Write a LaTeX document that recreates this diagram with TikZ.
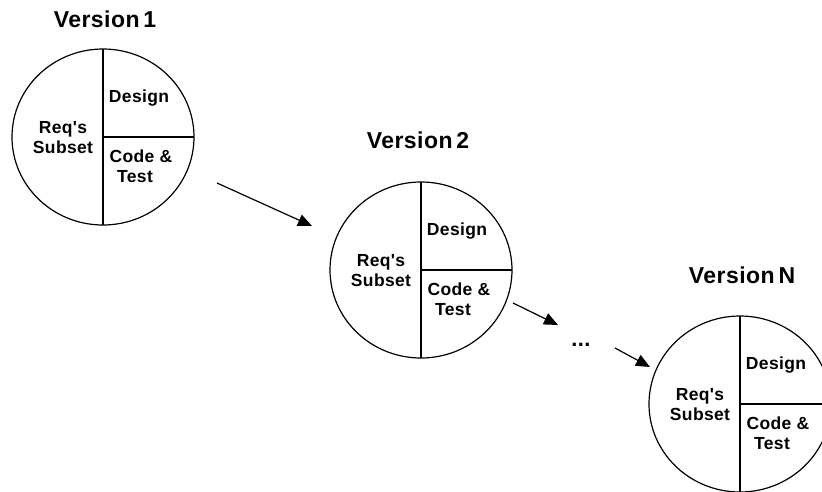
\documentclass[tikz,border=0pt]{standalone}
\usepackage{fontspec}
\setmainfont{Liberation Sans}[Ligatures=TeXOff]
\newfontfamily\labelfont{Liberation Sans}[Ligatures=TeXOff,LetterSpace=2]
\newfontfamily\titlefont{Liberation Sans}[Ligatures=TeXOff,LetterSpace=2]
\usetikzlibrary{arrows.meta}
\begin{document}
\begin{tikzpicture}[x=1pt,y=-1pt,
  rim/.style={draw=black,line width=1.2pt},
  lbl/.style={font=\labelfont\fontsize{17.5}{20}\selectfont\bfseries,anchor=base,inner sep=0pt},
  ttl/.style={font=\titlefont\fontsize{23}{27}\selectfont\bfseries,anchor=base,inner sep=0pt},
  flow/.style={draw=black,line width=1.2pt,-{Triangle[length=14pt,width=12pt]}},
  wheel/.pic={
    \draw[rim] (0,0) ellipse [x radius=91, y radius=88];
    \draw[rim] (0,-88) -- (0,88);
    \draw[rim] (0,0) -- (91,0);
    \node[lbl] (-design) at (36,-35) {Design};
    \node[lbl] (-req) at (-40,-4) {Req's};
    \node[lbl] (-subset) at (-40,16) {Subset};
    \node[lbl] (-code) at (38,25) {Code \&};
    \node[lbl] (-test) at (32,45) {Test};
  }]
\useasboundingbox (0,0) rectangle (822,491);
\clip (0,0) rectangle (822,491);

% the three iteration wheels
\pic (v1) at (103,137) {wheel};
\pic (v2) at (421,270) {wheel};
\pic (vn) at (740,404) {wheel};

% titles
\node[ttl] (t1) at (105,27) {Version\,1};
\node[ttl] (t2) at (418,148) {Version\,2};
\node[ttl] (tn) at (742,283) {Version\,N};

% progression arrows
\coordinate (a1s) at (217,183);
\coordinate (a1e) at (312,226);
\coordinate (a2s) at (513,303);
\coordinate (a2e) at (558,325);
\coordinate (a3s) at (615,348);
\coordinate (a3e) at (650,367);
\draw[flow] (a1s) -- (a1e);
\draw[flow] (a2s) -- (a2e);
\node[lbl,font=\labelfont\fontsize{22}{24}\selectfont\bfseries] (dots) at (581,346) {...};
\draw[flow] (a3s) -- (a3e);
\end{tikzpicture}
\end{document}
